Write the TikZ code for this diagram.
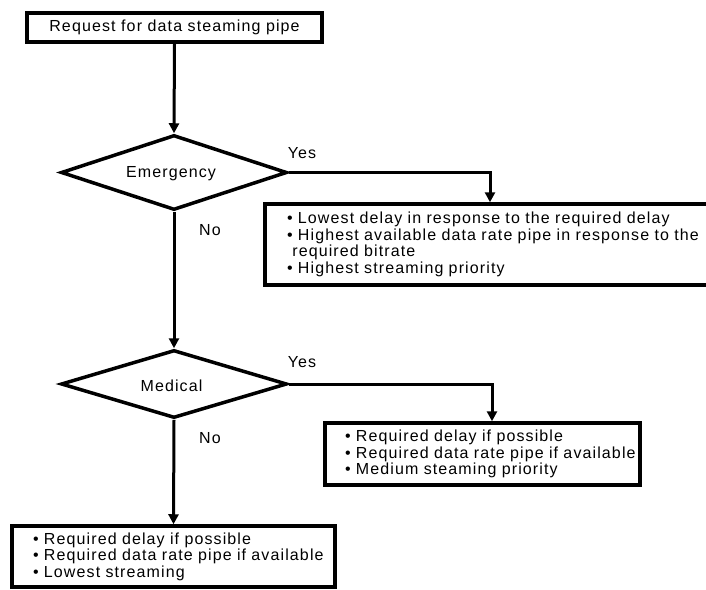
\documentclass[tikz,border=0pt]{standalone}
\usepackage{fontspec}
\setmainfont{Liberation Sans}[LetterSpace=7]
\usetikzlibrary{shapes.geometric,arrows.meta}

\tikzset{
  box/.style={draw, line width=3.5pt, rectangle, inner ysep=0pt, align=left,
    font=\fontsize{16}{16.5}\selectfont},
  decision/.style={draw, diamond, line width=3.5pt, inner sep=0pt},
  label text/.style={font=\fontsize{16}{16}\selectfont, inner sep=0pt},
  flow/.style={line width=3pt, -{Triangle[length=10pt,width=10pt]}}
}
% one unbroken bulleted line
\newcommand{\itemline}[1]{\mbox{\textbullet\ #1}}

\begin{document}
\begin{tikzpicture}[x=1pt,y=-1pt]
\useasboundingbox (0,0) rectangle (706,589);

% start
\node[box, minimum width=295pt, minimum height=29pt, align=center] (req) at (174.5,27.5)
  {Request for data steaming pipe};

% decisions
\node[decision, minimum width=226pt, minimum height=75pt] (emg) at (174,172.5) {};
\node[label text] (emgt) at (171,174) {Emergency};
\node[decision, minimum width=226pt, minimum height=68pt] (med) at (174,384) {};
\node[label text] (medt) at (171.5,386) {Medical};

% outcomes (the first one runs past the right margin)
\node[box, minimum width=460pt, minimum height=81pt, text width=416pt, inner xsep=22pt] (b1) at (495,244.5)
  {\itemline{Lowest delay in response to the required delay}\\
   \itemline{Highest available data rate pipe in response to the}\\
   \mbox{\ required bitrate}\\
   \itemline{Highest streaming priority}};
\node[box, minimum width=315pt, minimum height=62pt, text width=275pt, inner xsep=20pt] (b2) at (482.5,454)
  {\itemline{Required delay if possible}\\
   \itemline{Required data rate pipe if available}\\
   \itemline{Medium steaming priority}};
\node[box, minimum width=323pt, minimum height=61pt, text width=281pt, inner xsep=21pt] (b3) at (173.5,556.5)
  {\itemline{Required delay if possible}\\
   \itemline{Required data rate pipe if available}\\
   \itemline{Lowest streaming}};

% connectors
\draw[flow] (req.south) -- (emg.north);
\draw[flow] (emg.south) -- (med.north);
\draw[flow] (med.south) -- (b3.north);
\coordinate (c1) at (490,0);
\coordinate (c2) at (492,0);
\draw[flow] (emg.east) -| (c1 |- b1.north);
\draw[flow] (med.east) -| (c2 |- b2.north);

% branch labels
\node[label text] (y1) at (302,153) {Yes};
\node[label text] (n1) at (210,230) {No};
\node[label text] (y2) at (302,362) {Yes};
\node[label text] (n2) at (210,438) {No};
\end{tikzpicture}
\end{document}
